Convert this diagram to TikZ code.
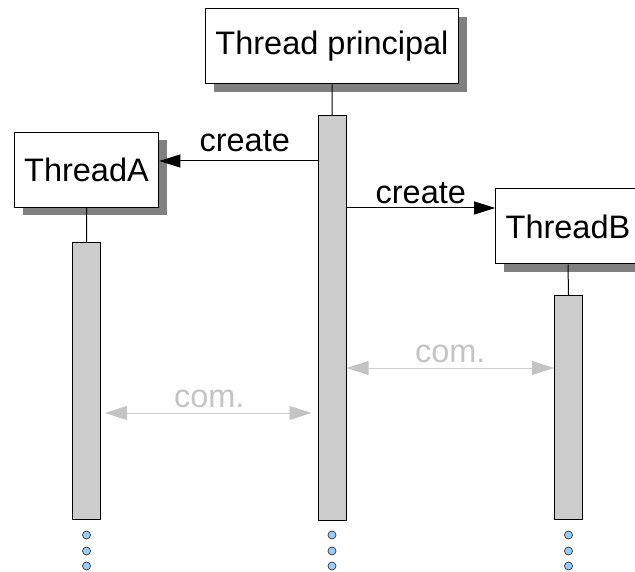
\documentclass[tikz,border=0pt]{standalone}
\usepackage{fontspec}
\setmainfont{Liberation Sans}
\usetikzlibrary{arrows.meta,shadows}
\definecolor{shadowgray}{HTML}{808080}
\definecolor{bargray}{HTML}{CCCCCC}
\definecolor{comgray}{HTML}{C4C4C4}
\definecolor{dotblue}{HTML}{99CCFF}
\tikzset{
  threadbox/.style={draw, fill=white, line width=1pt, minimum height=75pt, inner xsep=10pt,
    drop shadow={shadow xshift=8.5pt, shadow yshift=-8pt, fill=shadowgray, opacity=1}},
  activebar/.style={draw, fill=bargray, line width=1pt, anchor=north, minimum width=28pt, inner sep=0pt},
  createarrow/.style={line width=1pt, -{Triangle[length=21pt,width=13pt]}},
  comarrow/.style={line width=0.9pt, draw=comgray!80, {Triangle[length=22pt,width=14pt,fill=comgray,color=comgray]}-{Triangle[length=22pt,width=14pt,fill=comgray,color=comgray]}},
  comlabel/.style={text=comgray, above, inner sep=5pt},
  dot/.style={draw=black!80, fill=dotblue, line width=0.7pt}
}
\begin{document}
\begin{tikzpicture}[x=1pt, y=-1pt, font=\fontsize{32.5}{38}\selectfont]
				\useasboundingbox (0,0) rectangle (635,572);
				\node[threadbox, minimum width=253pt] (principal) at (332,46.5) {Thread principal};
				\node[threadbox, minimum width=142pt] (threadA) at (86.5,170) {ThreadA};
				\node[threadbox, minimum width=142pt] (threadB) at (568,226.5) {ThreadB};
				\node[activebar, minimum height=405pt] (barP) at (332,115) {};
				\node[activebar, minimum height=277pt] (barA) at (86.5,242) {};
				\node[activebar, minimum height=224pt] (barB) at (568.5,295) {};
				\draw[line width=1pt] (principal.south)--(barP.north) (threadA.south)--(barA.north) (threadB.south)--(barB.north);
				\draw[createarrow] (barP.west |- 0,161)--(threadA.east |- 0,161) node[pos=0.46, above, inner sep=9pt]{create};
				\draw[createarrow] (barP.east |- 0,208)--(threadB.west |- 0,208) node[midway, above, inner sep=4pt]{create};
				\draw[comarrow, shorten <=4pt, shorten >=6pt] (barA.east |- 0,413)--(barP.west |- 0,413) node[midway, comlabel]{com.};
				\draw[comarrow] (barP.east |- 0,368)--(barB.west |- 0,368) node[midway, comlabel]{com.};
				\foreach \x in {86.5,332,568.5}{
				\foreach \y in {535,551,566}{
				\draw[dot] (\x,\y) circle (4pt);
				}}
			\end{tikzpicture}
\end{document}
